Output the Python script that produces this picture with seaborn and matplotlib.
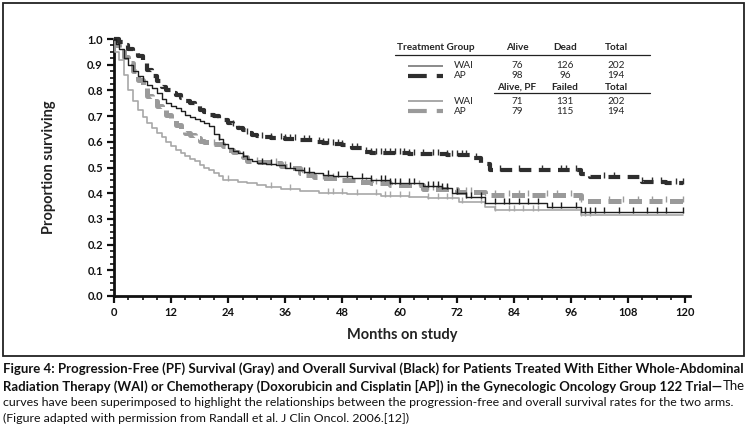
import numpy as np
import pandas as pd
import matplotlib
matplotlib.use("Agg")
import matplotlib.pyplot as plt
import seaborn as sns
from matplotlib.lines import Line2D
from matplotlib.patches import Rectangle
from matplotlib.ticker import MultipleLocator

# ---------------- data ----------------
END_TIME = 119.5

os_wai_t = [0, 0.5, 1, 2, 3, 4, 5, 6, 7, 8, 9, 10, 11, 12, 13, 14, 15, 16, 17, 18, 19, 20, 21, 22, 23,
            24, 25, 26, 27, 28, 29, 30, 32, 34, 36, 38, 40, 42, 44, 46, 50, 54, 58, 65, 69, 71, 74, 78, 91, 98]
os_wai_s = [1.0, 0.98, 0.96, 0.925, 0.90, 0.875, 0.855, 0.835, 0.82, 0.81, 0.79, 0.765, 0.75, 0.74, 0.73,
            0.72, 0.705, 0.698, 0.69, 0.68, 0.672, 0.66, 0.63, 0.61, 0.59, 0.575, 0.565, 0.555, 0.545, 0.535,
            0.525, 0.518, 0.512, 0.508, 0.50, 0.49, 0.483, 0.477, 0.47, 0.465, 0.46, 0.45, 0.44, 0.428, 0.419,
            0.40, 0.385, 0.36, 0.345, 0.326]
os_wai_cens = [22, 27, 31, 33, 37, 40, 41, 45, 47, 49, 52, 54, 56, 57, 58, 59, 60, 62, 63, 66, 67, 68, 69, 70,
               72, 74, 75, 77, 80, 82, 83, 85, 87, 89, 92, 94, 97, 99, 100, 101, 103, 106, 109, 112, 114, 116, 119.5]

os_ap_t = [0, 1, 2, 3, 4, 5, 6, 7, 8, 9, 10, 11, 12, 13, 14, 15, 16, 17, 18, 19, 20, 21, 22, 23, 24, 25, 26,
           27, 28, 29, 30, 31, 33, 36, 39, 42, 44, 46, 48, 50, 52, 54, 62, 70, 75, 77, 79, 98, 100, 111, 116]
os_ap_s = [1.0, 0.99, 0.975, 0.96, 0.95, 0.935, 0.905, 0.88, 0.855, 0.835, 0.815, 0.80, 0.79, 0.782, 0.772,
           0.76, 0.75, 0.74, 0.725, 0.715, 0.705, 0.70, 0.69, 0.685, 0.675, 0.665, 0.655, 0.645, 0.635, 0.628,
           0.622, 0.617, 0.615, 0.612, 0.607, 0.60, 0.595, 0.59, 0.588, 0.575, 0.56, 0.555, 0.552, 0.55, 0.536,
           0.515, 0.49, 0.475, 0.464, 0.445, 0.44]
os_ap_cens = [25, 28, 31, 33, 35, 36, 37, 38, 40, 41, 43, 44, 45, 46, 47, 48, 50, 51, 53, 54, 55, 56, 57, 58,
              59, 60, 61, 62, 63, 65, 67, 68, 70, 71, 72, 73, 74, 76, 81, 85, 90, 94, 95, 97, 98, 103, 105,
              111, 113, 115, 118, 119.5]

pf_wai_t = [0, 0.3, 1, 2, 3, 4, 5, 6, 7, 8, 9, 10, 11, 12, 13, 14, 15, 16, 17, 18, 19, 20, 21, 22, 23, 26,
            28, 30, 32, 35, 39, 43, 49, 56, 62, 66, 72.5, 78, 80, 98]
pf_wai_s = [1.0, 0.95, 0.92, 0.86, 0.80, 0.76, 0.725, 0.695, 0.675, 0.655, 0.635, 0.62, 0.60, 0.585, 0.57,
            0.555, 0.545, 0.535, 0.525, 0.51, 0.50, 0.49, 0.48, 0.465, 0.45, 0.445, 0.44, 0.432, 0.425, 0.418,
            0.41, 0.40, 0.395, 0.39, 0.387, 0.38, 0.367, 0.347, 0.335, 0.315]
pf_wai_cens = [24, 33, 37, 45, 46, 48, 51, 55, 57, 58, 60, 62, 66, 68, 70, 71, 73, 77, 80, 83, 84, 86, 88, 89,
               98, 99, 100]

pf_ap_t = [0, 0.5, 1, 2, 3, 4, 5, 6, 7, 8, 9, 10, 11, 12, 13, 14, 15, 16, 17, 18, 19, 21, 23, 24, 25, 26, 27,
           28, 30, 33, 35, 37, 39, 40, 42, 44, 47, 51, 54, 58, 65, 72, 78, 98]
pf_ap_s = [1.0, 0.975, 0.96, 0.93, 0.905, 0.875, 0.84, 0.81, 0.78, 0.76, 0.74, 0.725, 0.705, 0.69, 0.665,
           0.65, 0.635, 0.625, 0.615, 0.605, 0.60, 0.59, 0.585, 0.57, 0.56, 0.55, 0.54, 0.525, 0.52, 0.516,
           0.505, 0.497, 0.48, 0.47, 0.463, 0.458, 0.451, 0.445, 0.438, 0.43, 0.415, 0.405, 0.393, 0.371]
pf_ap_cens = [21, 30, 34, 36, 41, 44, 46, 49, 53, 55, 58, 60, 62, 64, 66, 67, 68, 70, 72, 74, 75, 78, 80, 83,
              85, 87, 91, 93, 96, 98, 104, 107, 110, 113, 116, 119.5]

x_ticks = [0, 12, 24, 36, 48, 60, 72, 84, 96, 108, 120]
y_ticks = [0.0, 0.1, 0.2, 0.3, 0.4, 0.5, 0.6, 0.7, 0.8, 0.9, 1.0]

legend_groups = ["WAI", "AP"]
os_alive = [76, 98]
os_dead = [126, 96]
os_total = [202, 194]
pf_alive = [71, 79]
pf_failed = [131, 115]
pf_total = [202, 194]

caption_bold_1 = ("Figure 4: Progression-Free (PF) Survival (Gray) and Overall Survival (Black) for Patients "
                  "Treated With Either Whole-Abdominal")
caption_bold_2 = ("Radiation Therapy (WAI) or Chemotherapy (Doxorubicin and Cisplatin [AP]) in the Gynecologic "
                  "Oncology Group 122 Trial\u2014")
caption_reg_2 = "The"
caption_reg_3 = ("curves have been superimposed to highlight the relationships between the progression-free "
                 "and overall survival rates for the two arms.")
caption_reg_4 = "(Figure adapted with permission from Randall et al. J Clin Oncol. 2006.[12])"

# ---------------- styling ----------------
sns.set_style("white")
plt.rcParams["font.family"] = ["Lato", "DejaVu Sans"]

W, H = 746, 429
fig = plt.figure(figsize=(W / 100, H / 100), dpi=100)


def fx(px):
    return px / W


def fy(py):
    return 1 - py / H


ax = fig.add_axes([fx(114), fy(296), 576 / W, 257 / H])

BLACK = "#1e1e1e"
DARK = "#2e2e2e"
GRAY = "#9a9a9a"
GRAY_L = "#a8a8a8"

curves = [
    # t, s, censor, color, lw, linestyle, zorder
    (pf_ap_t, pf_ap_s, pf_ap_cens, GRAY, 3.6, (0, (2.6, 1.5)), 2),
    (pf_wai_t, pf_wai_s, pf_wai_cens, GRAY_L, 1.2, "-", 3),
    (os_ap_t, os_ap_s, os_ap_cens, DARK, 3.0, (0, (2.8, 1.8)), 4),
    (os_wai_t, os_wai_s, os_wai_cens, BLACK, 1.0, "-", 5),
]

for t, s, cens, col, lw, ls, z in curves:
    tt = list(t) + [END_TIME]
    ss = list(s) + [s[-1]]
    df = pd.DataFrame({"t": tt, "s": ss})
    sns.lineplot(data=df, x="t", y="s", ax=ax, color=col, linewidth=lw, linestyle=ls,
                 drawstyle="steps-post", estimator=None, sort=False, zorder=z, clip_on=False)
    ct = np.array(cens)
    idx = np.searchsorted(np.array(t), ct, side="right") - 1
    cy = np.array(s)[idx] + 0.008
    sns.scatterplot(x=ct, y=cy, ax=ax, marker="|", s=22, linewidth=1.0, color=col,
                    edgecolor=col, zorder=z, legend=False, clip_on=False)

ax.set_xlim(0, 121)
ax.set_ylim(0, 1.0)
ax.set_xticks(x_ticks, [str(v) for v in x_ticks], fontweight="bold")
ax.set_yticks(y_ticks, ["%.1f" % v for v in y_ticks], fontweight="bold")
ax.xaxis.set_minor_locator(MultipleLocator(3))
ax.yaxis.set_minor_locator(MultipleLocator(0.025))
ax.tick_params(which="major", direction="out", length=5, width=1.6, labelsize=8, pad=3,
               colors="#111111", bottom=True, left=True)
ax.tick_params(which="minor", direction="out", length=3, width=1.2, colors="#111111",
               bottom=True, left=True)
for side in ["top", "right"]:
    ax.spines[side].set_visible(False)
for side in ["left", "bottom"]:
    ax.spines[side].set_linewidth(2.0)
    ax.spines[side].set_color("#111111")
ax.set_facecolor("none")
ax.grid(False)

ax.set_xlabel("Months on study", fontsize=10.5, fontweight="bold", color="#222222")
ax.set_ylabel("Proportion surviving", fontsize=10.5, fontweight="bold", color="#222222")
ax.xaxis.set_label_coords(0.5, -0.125)
ax.yaxis.set_label_coords(-0.10, 0.5)

# ---------------- box frame ----------------
fig.add_artist(Rectangle((fx(2.5), fy(356)), (741) / W, (353.5) / H, transform=fig.transFigure,
                         fill=False, edgecolor="#222222", linewidth=1.3))

# ---------------- legend table ----------------
LFS = 7.2
col_alive, col_dead, col_total = 517, 565, 616
fig.text(fx(397), fy(48), "Treatment Group", fontsize=LFS, fontweight="bold", ha="left", va="center")
for x, lab in [(col_alive, "Alive"), (col_dead, "Dead"), (col_total, "Total")]:
    fig.text(fx(x), fy(48), lab, fontsize=LFS, fontweight="bold", ha="center", va="center")
fig.add_artist(Line2D([fx(395), fx(650)], [fy(55), fy(55)], transform=fig.transFigure,
                      color="#222222", lw=0.9))
for x, lab in [(col_alive, "Alive, PF"), (col_dead, "Failed"), (col_total, "Total")]:
    fig.text(fx(x), fy(87), lab, fontsize=LFS, fontweight="bold", ha="center", va="center")
fig.add_artist(Line2D([fx(494), fx(650)], [fy(93), fy(93)], transform=fig.transFigure,
                      color="#222222", lw=0.9))

rows = [
    (65.5, legend_groups[0], os_alive[0], os_dead[0], os_total[0], "#8a8a8a", 1.4, "-"),
    (75.5, legend_groups[1], os_alive[1], os_dead[1], os_total[1], DARK, 3.0, (0, (4.5, 2.4))),
    (101.0, legend_groups[0], pf_alive[0], pf_failed[0], pf_total[0], GRAY_L, 1.4, "-"),
    (111.0, legend_groups[1], pf_alive[1], pf_failed[1], pf_total[1], GRAY, 3.0, (0, (4.5, 2.4))),
]
for y, g, a, d, tot, col, lw, ls in rows:
    fig.add_artist(Line2D([fx(408), fx(443)], [fy(y), fy(y)], transform=fig.transFigure,
                          color=col, lw=lw, linestyle=ls, solid_capstyle="butt", dash_capstyle="butt"))
    fig.text(fx(454), fy(y), g, fontsize=LFS, ha="left", va="center")
    for x, v in [(col_alive, a), (col_dead, d), (col_total, tot)]:
        fig.text(fx(x), fy(y), str(v), fontsize=LFS, ha="center", va="center")

# ---------------- caption ----------------
fig.canvas.draw()
renderer = fig.canvas.get_renderer()
LEFT, RIGHT = 3, 742
target = RIGHT - LEFT


def width_px(txt):
    return txt.get_window_extent(renderer).width


t1 = fig.text(fx(LEFT), fy(369), caption_bold_1, fontsize=9, fontweight="bold", ha="left", va="center",
              color="#111111")
w = width_px(t1)
t1.set_fontsize(9 * target / w)

t2a = fig.text(fx(LEFT), fy(386), caption_bold_2, fontsize=9, fontweight="bold", ha="left", va="center",
               color="#111111")
t2b = fig.text(fx(LEFT), fy(386), caption_reg_2, fontsize=9, ha="left", va="center", color="#111111")
wa, wb = width_px(t2a), width_px(t2b)
sp = 0.5
scale2 = (target - sp) / (wa + wb)
t2a.set_fontsize(9 * scale2)
t2b.set_fontsize(9 * scale2)
fig.canvas.draw()
wa = width_px(t2a)
t2b.set_position((fx(LEFT + wa + sp), fy(386)))

t3 = fig.text(fx(LEFT), fy(402), caption_reg_3, fontsize=9, ha="left", va="center", color="#111111")
w3 = width_px(t3)
fs3 = 9 * target / w3
t3.set_fontsize(fs3)
fig.text(fx(LEFT), fy(418), caption_reg_4, fontsize=fs3, ha="left", va="center", color="#111111")

fig.savefig("out.png", dpi=100)
